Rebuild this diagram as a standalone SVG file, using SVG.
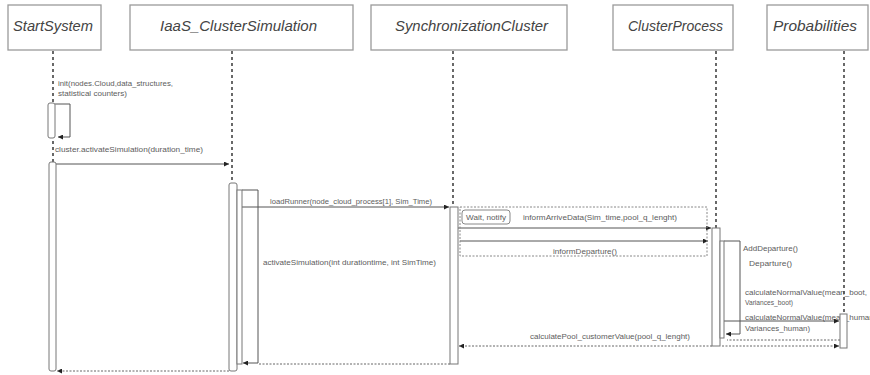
<svg xmlns="http://www.w3.org/2000/svg" width="870" height="375" viewBox="0 0 870 375">
  <style>
    .box{fill:#fff;stroke:#9a9a9a;stroke-width:1.3}
    .title{font-family:"Liberation Sans",Arial,sans-serif;font-style:italic;font-size:14px;fill:#444;text-anchor:middle}
    .life{stroke:#444;stroke-width:1.6;stroke-dasharray:3 3;fill:none}
    .bar{fill:#fff;stroke:#777;stroke-width:1}
    .msg{stroke:#555;stroke-width:1;fill:none}
    .ret{stroke:#666;stroke-width:1;stroke-dasharray:2 1.5;fill:none}
    .frame{fill:none;stroke:#888;stroke-width:1;stroke-dasharray:2 1.5}
    .lbl{font-family:"Liberation Sans",Arial,sans-serif;font-size:7.2px;fill:#5c5c5c}
  </style>
  <defs>
    <marker id="arrow" viewBox="0 0 6 6" refX="6" refY="3" markerWidth="5" markerHeight="5" orient="auto">
      <path d="M0,0 L6,3 L0,6 z" fill="#222"/>
    </marker>
  </defs>

  <!-- messages and their labels -->
  <g id="connectors">
    <text class="lbl" x="58" y="85.5" textLength="115" lengthAdjust="spacingAndGlyphs">init(nodes.Cloud,data_structures,</text>
    <text class="lbl" x="58" y="95.5" textLength="69" lengthAdjust="spacingAndGlyphs">statistical counters)</text>
    <path class="msg" d="M55,104 H70 V137 H58" marker-end="url(#arrow)"/>

    <text class="lbl" x="55" y="151.5" textLength="148" lengthAdjust="spacingAndGlyphs">cluster.activateSimulation(duration_time)</text>
    <path class="msg" d="M56,164 H229" marker-end="url(#arrow)"/>

    <text class="lbl" x="270" y="203.5" textLength="162" lengthAdjust="spacingAndGlyphs">loadRunner(node_cloud_process[1], Sim_Time)</text>
    <path class="msg" d="M242,207 H449" marker-end="url(#arrow)"/>

    <path class="msg" d="M242,190 H258 V363 H243" marker-end="url(#arrow)"/>
    <text class="lbl" x="263" y="264.5" textLength="173" lengthAdjust="spacingAndGlyphs">activateSimulation(int durationtime, int SimTime)</text>

    <text class="lbl" x="523" y="219.5" textLength="154" lengthAdjust="spacingAndGlyphs">informArriveData(Sim_time,pool_q_lenght)</text>
    <path class="msg" d="M458,228 H711" marker-end="url(#arrow)"/>
    <path class="msg" d="M460,241 H708" marker-end="url(#arrow)"/>
    <text class="lbl" x="553" y="254" textLength="64" lengthAdjust="spacingAndGlyphs">informDeparture()</text>

    <path class="msg" d="M724,241 H740 V334 H726" marker-end="url(#arrow)"/>
    <text class="lbl" x="743" y="250.5" textLength="55" lengthAdjust="spacingAndGlyphs">AddDeparture()</text>
    <text class="lbl" x="749" y="265.5" textLength="43" lengthAdjust="spacingAndGlyphs">Departure()</text>

    <text class="lbl" x="745" y="294.5" textLength="122" lengthAdjust="spacingAndGlyphs">calculateNormalValue(mean_boot,</text>
    <text class="lbl" x="745" y="304.5" textLength="48" lengthAdjust="spacingAndGlyphs">Variances_boot)</text>
    <text class="lbl" x="745" y="319.5" textLength="131" lengthAdjust="spacingAndGlyphs">calculateNormalValue(mean_human,</text>
    <text class="lbl" x="745" y="331" textLength="65" lengthAdjust="spacingAndGlyphs">Variances_human)</text>
    <path class="msg" d="M724,321 H839" marker-end="url(#arrow)"/>
    <path class="ret" d="M840,340 H727"/>
    <path class="ret" d="M722,346 H839" marker-end="url(#arrow)"/>

    <text class="lbl" x="530" y="338.5" textLength="160" lengthAdjust="spacingAndGlyphs">calculatePool_customerValue(pool_q_lenght)</text>
    <path class="ret" d="M712,346 H459" marker-end="url(#arrow)"/>

    <path class="ret" d="M450,364 H258"/>
    <path class="ret" d="M229,371 H57" marker-end="url(#arrow)"/>
  </g>

  <!-- wait / notify fragment -->
  <g id="frame-wait-notify">
    <rect class="frame" x="460" y="207" width="247" height="49"/>
    <rect x="462" y="210" width="48" height="14" rx="3" fill="#fff" stroke="#888" stroke-width="1"/>
    <text class="lbl" x="486" y="219.5" text-anchor="middle" textLength="40" lengthAdjust="spacingAndGlyphs">Wait, notify</text>
  </g>

  <!-- participants -->
  <g id="startsystem">
    <rect class="box" x="8" y="5" width="93" height="45"/>
    <text class="title" x="53" y="31" textLength="80" lengthAdjust="spacingAndGlyphs">StartSystem</text>
    <path class="life" d="M53,51 V162"/>
    <rect class="bar" x="48" y="103" width="7" height="35" rx="2"/>
    <rect class="bar" x="49" y="162" width="7" height="209" rx="2"/>
  </g>

  <g id="iaas-clustersimulation">
    <rect class="box" x="130" y="5" width="223" height="45"/>
    <text class="title" x="238.5" y="31" textLength="157" lengthAdjust="spacingAndGlyphs">IaaS_ClusterSimulation</text>
    <path class="life" d="M232,51 V183"/>
    <rect class="bar" x="229" y="183" width="8" height="188" rx="2"/>
    <rect class="bar" x="237" y="190" width="5" height="174"/>
  </g>

  <g id="synchronizationcluster">
    <rect class="box" x="371" y="5" width="196" height="45"/>
    <text class="title" x="471.5" y="31" textLength="153" lengthAdjust="spacingAndGlyphs">SynchronizationCluster</text>
    <path class="life" d="M453,51 V207"/>
    <rect class="bar" x="450" y="207" width="8" height="157"/>
  </g>

  <g id="clusterprocess">
    <rect class="box" x="613" y="5" width="120" height="45"/>
    <text class="title" x="675.5" y="31" textLength="95" lengthAdjust="spacingAndGlyphs">ClusterProcess</text>
    <path class="life" d="M716,51 V228"/>
    <rect class="bar" x="712" y="228" width="8" height="118"/>
    <rect class="bar" x="720" y="241" width="4" height="97"/>
  </g>

  <g id="probabilities">
    <rect class="box" x="767" y="5" width="101" height="45"/>
    <text class="title" x="815" y="31" textLength="84" lengthAdjust="spacingAndGlyphs">Probabilities</text>
    <path class="life" d="M844,51 V314"/>
    <rect class="bar" x="840" y="314" width="7" height="34"/>
  </g>
</svg>
